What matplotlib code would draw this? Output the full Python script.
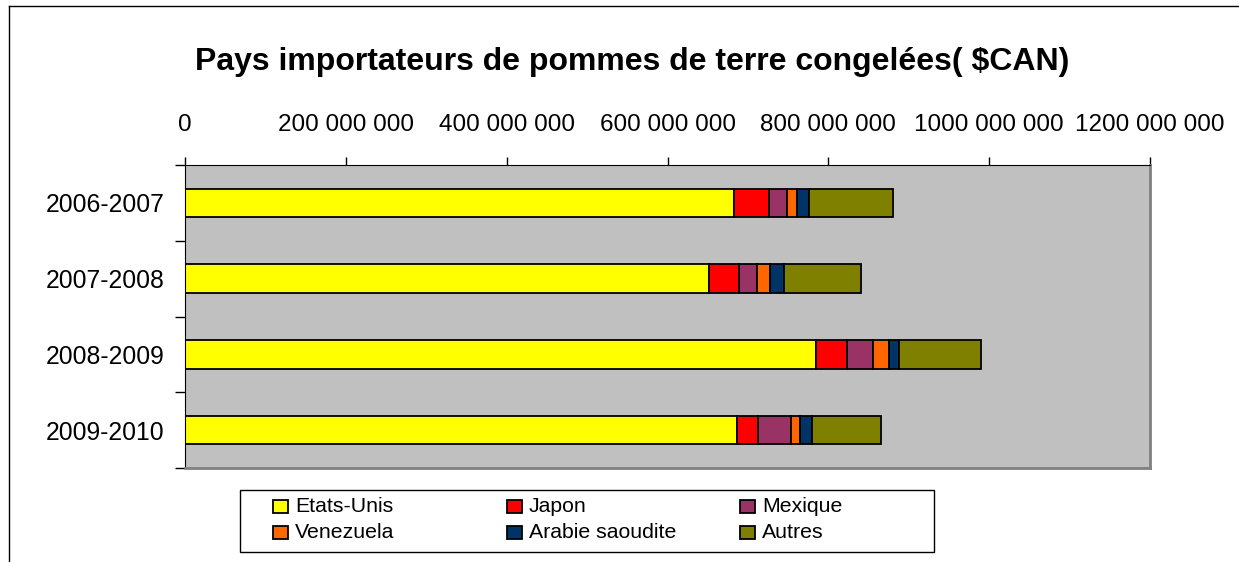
import matplotlib
matplotlib.use("Agg")
import matplotlib.pyplot as plt
import numpy as np
from matplotlib.patches import Rectangle
from matplotlib.lines import Line2D

plt.rcParams['font.family'] = ['Liberation Sans', 'DejaVu Sans']

# valeurs en millions de $CAN
annees = ["2006-2007", "2007-2008", "2008-2009", "2009-2010"]
etats_unis = [683, 651, 785, 686]
japon = [43, 38, 38, 27]
mexique = [23, 22, 32, 40]
venezuela = [12, 17, 20, 12]
arabie = [15, 17, 13, 15]
autres = [104, 95, 102, 85]

pays = ["Etats-Unis", "Japon", "Mexique", "Venezuela", "Arabie saoudite", "Autres"]
couleurs = ["#FFFF00", "#FF0000", "#993366", "#FF6600", "#003366", "#808000"]
xticks = [0, 200, 400, 600, 800, 1000, 1200]
xlabels = ["0", "200 000 000", "400 000 000", "600 000 000", "800 000 000",
           "1000 000 000", "1200 000 000"]

W, H = 1239, 562
fig = plt.figure(figsize=(W / 100, H / 100), dpi=100)

def fx(x):
    return x / W

def fy(y):
    return 1 - y / H

ax = fig.add_axes([fx(185), fy(468), fx(1150) - fx(185), fy(165) - fy(468)])
ax.set_facecolor("#C0C0C0")

series = [etats_unis, japon, mexique, venezuela, arabie, autres]
y = np.arange(len(annees))
left = np.zeros(len(annees))
for vals, nom, c in zip(series, pays, couleurs):
    ax.barh(y, vals, left=left, height=0.375, color=c, edgecolor="black",
            linewidth=1.3, label=nom)
    left += np.array(vals)

ax.set_xlim(0, 1200)
ax.set_ylim(3.5, -0.5)
ax.xaxis.tick_top()
ax.set_xticks(xticks)
ax.set_xticklabels(xlabels, fontsize=17.5)
ax.tick_params(axis="x", direction="out", length=6, width=1, pad=15)
ax.set_yticks(y)
ax.set_yticklabels(annees, fontsize=17.8)
ax.tick_params(axis="y", which="major", length=0, pad=15)
ax.set_yticks(np.arange(-0.5, 4.0, 1.0), minor=True)
ax.tick_params(axis="y", which="minor", direction="out", length=7, width=1)

ax.spines["top"].set_color("black")
ax.spines["left"].set_color("black")
ax.spines["right"].set_color("#808080")
ax.spines["bottom"].set_color("#808080")
for s in ["right", "bottom"]:
    ax.spines[s].set_linewidth(2)

fig.text(fx(632), fy(62), "Pays importateurs de pommes de terre congelées( $CAN)",
         ha="center", va="center", fontsize=23, fontweight="bold")

# cadre extérieur
fig.add_artist(Line2D([fx(9), fx(9)], [fy(6), 0], color="black", lw=1,
                      transform=fig.transFigure))
fig.add_artist(Line2D([fx(9), 1], [fy(6), fy(6)], color="black", lw=1,
                      transform=fig.transFigure))

# légende
fig.add_artist(Rectangle((fx(240), fy(552)), fx(934) - fx(240), fy(490) - fy(552),
                         transform=fig.transFigure, facecolor="white",
                         edgecolor="black", lw=1))
col_x = [273, 507, 740]
row_y = [506.5, 532]
for i, (nom, c) in enumerate(zip(pays, couleurs)):
    r, k = divmod(i, 3)
    x0, yc = col_x[k], row_y[r]
    fig.add_artist(Rectangle((fx(x0), fy(yc + 6.5)), fx(15), 13 / H,
                             transform=fig.transFigure, facecolor=c,
                             edgecolor="black", lw=1.3))
    fig.text(fx(x0 + 22), fy(yc + 6), nom, ha="left", va="baseline", fontsize=15.3)

fig.savefig("out.png", dpi=100)
